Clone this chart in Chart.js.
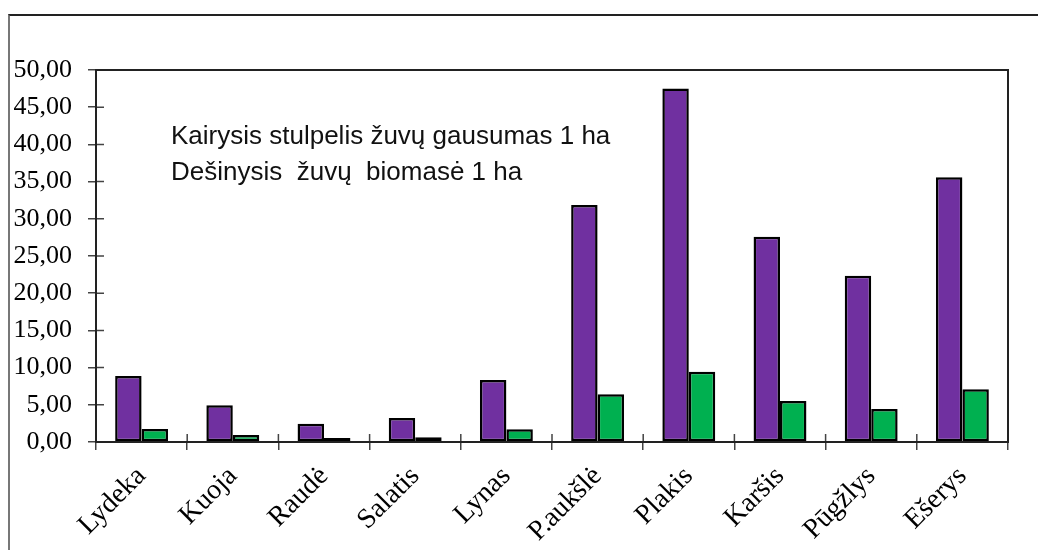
<!DOCTYPE html>
<html>
<head>
<meta charset="utf-8">
<script src="https://cdn.jsdelivr.net/npm/chart.js@4/dist/chart.umd.min.js"></script>
<style>
  html, body { margin: 0; padding: 0; background: #fff; }
  #wrap { position: relative; width: 1038px; height: 550px; }
  #frame { position: absolute; left: 8px; top: 14px; right: 0; bottom: 0;
           border-top: 2px solid #222; border-left: 2px solid #777; }
  #note { position: absolute; left: 171px; top: 117px; font-family: "Liberation Sans", sans-serif;
          font-size: 26px; line-height: 36px; color: #111; white-space: pre; }
</style>
</head>
<body>
<div id="wrap">
  <div id="frame"></div>
  <canvas id="c" width="1038" height="550"></canvas>
  <div id="note">Kairysis stulpelis žuvų gausumas 1 ha
Dešinysis  žuvų  biomasė 1 ha</div>
</div>
<script>
const categories = ["Lydeka","Kuoja","Raudė","Salatis","Lynas","P.aukšlė","Plakis","Karšis","Pūgžlys","Ešerys"];
const gausumas = [8.87, 4.93, 2.46, 3.23, 8.33, 31.85, 47.5, 27.6, 22.35, 35.6];
const biomase = [1.75, 0.94, 0.54, 0.63, 1.70, 6.41, 9.45, 5.50, 4.43, 7.08];
const yTicks = [0, 5, 10, 15, 20, 25, 30, 35, 40, 45, 50];

// frame around plot + inner half of tick marks
const plotFrame = {
  id: 'plotFrame',
  afterDraw(chart) {
    const {ctx, chartArea: a, scales} = chart;
    ctx.save();
    ctx.strokeStyle = '#444';
    ctx.lineWidth = 1.5;
    ctx.beginPath();
    scales.y.ticks.forEach((t, i) => {
      const y = scales.y.getPixelForTick(i);
      ctx.moveTo(a.left, y); ctx.lineTo(a.left + 8, y);
    });
    for (let i = 1; i < categories.length; i++) {
      const x = a.left + (a.right - a.left) * i / categories.length;
      ctx.moveTo(x, a.bottom); ctx.lineTo(x, a.bottom - 8);
    }
    ctx.stroke();
    ctx.strokeStyle = '#222';
    ctx.lineWidth = 2;
    ctx.strokeRect(a.left, a.top, a.right - a.left, a.bottom - a.top);
    ctx.restore();
  }
};

new Chart(document.getElementById('c'), {
  type: 'bar',
  data: {
    labels: categories,
    datasets: [
      { label: 'gausumas', data: gausumas, backgroundColor: '#7030A0', borderColor: '#000', borderWidth: 2.5, borderSkipped: false },
      { label: 'biomasė', data: biomase, backgroundColor: '#00B050', borderColor: '#000', borderWidth: 2.5, borderSkipped: false }
    ]
  },
  options: {
    responsive: false,
    animation: false,
    layout: { padding: { left: 0, right: 30, top: 70, bottom: 0 } },
    datasets: { bar: { categoryPercentage: 0.58, barPercentage: 1.0 } },
    scales: {
      x: {
        grid: { offset: true, drawOnChartArea: false, tickLength: 8, color: '#444', lineWidth: 1.5 },
        border: { display: true, color: '#222', width: 2 },
        ticks: {
          color: '#000', minRotation: 45, maxRotation: 45, padding: 10,
          font: { family: '"Liberation Serif", serif', size: 28 }
        },
        afterFit(s) { s.height = 108; }
      },
      y: {
        min: 0, max: 50,
        afterBuildTicks(s) { s.ticks = yTicks.map(v => ({ value: v })); },
        grid: { drawOnChartArea: false, tickLength: 8, color: '#444', lineWidth: 1.5 },
        border: { display: true, color: '#222', width: 2 },
        ticks: {
          color: '#000', padding: 16,
          font: { family: '"Liberation Serif", serif', size: 26 },
          callback: v => v.toFixed(2).replace('.', ',')
        },
        afterFit(s) { s.width = 96; }
      }
    },
    plugins: { legend: { display: false }, tooltip: { enabled: false } }
  },
  plugins: [plotFrame]
});
</script>
</body>
</html>
